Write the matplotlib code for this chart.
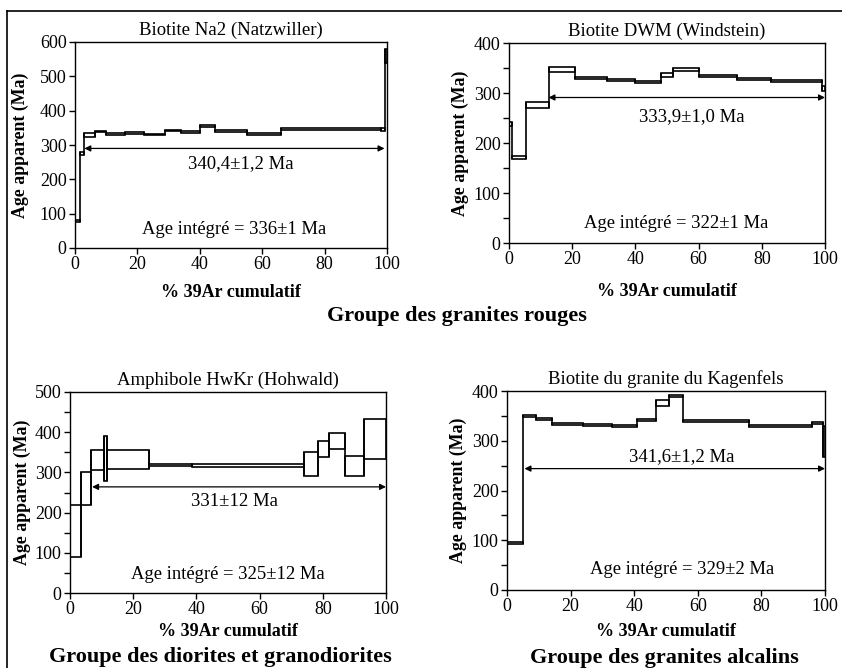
import numpy as np
import matplotlib
matplotlib.use('Agg')
import matplotlib.pyplot as plt
from matplotlib.lines import Line2D
from matplotlib.ticker import MultipleLocator

plt.rcParams['font.family'] = ['Liberation Serif', 'DejaVu Serif']

# --- data: step edges (% 39Ar cumulatif), lower / upper apparent ages (Ma) ---
titles = ['Biotite Na2 (Natzwiller)', 'Biotite DWM (Windstein)',
          'Amphibole HwKr (Hohwald)', 'Biotite du granite du Kagenfels']

edges1 = [0, 1.5, 3, 6.5, 10, 16, 22, 29, 34, 40, 45, 55, 66, 98, 99.5, 100]
lo1 = [75, 270, 322, 337, 330, 333, 328, 340, 335, 351, 338, 330, 343, 340, 540]
hi1 = [82, 280, 334, 342, 336, 338, 333, 345, 340, 357, 345, 335, 349, 350, 580]

edges2 = [0, 1, 5.5, 12.5, 21, 31, 40, 48, 52, 60, 72, 83, 99, 100]
lo2 = [235, 168, 270, 342, 328, 325, 321, 332, 345, 333, 326, 322, 305]
hi2 = [242, 175, 283, 352, 332, 329, 325, 340, 350, 337, 330, 326, 315]

edges3 = [0, 3.5, 6.8, 10.8, 11.8, 25, 38.5, 74, 78.5, 82, 87, 93, 100]
lo3 = [90, 220, 305, 278, 308, 315, 313, 290, 338, 358, 290, 333]
hi3 = [218, 300, 355, 390, 355, 322, 320, 350, 377, 398, 342, 433]

edges4 = [0, 5, 9, 14, 24, 33, 41, 47, 51, 55.5, 76, 96, 99.5, 100]
lo4 = [92, 348, 342, 332, 329, 328, 340, 370, 388, 338, 328, 334, 268]
hi4 = [96, 352, 346, 336, 333, 331, 343, 382, 392, 341, 332, 338, 330]

ymax = [600, 400, 500, 400]

# plateau: start %, end %, arrow age, label
plateau_start = [3, 12.5, 7, 5.5]
plateau_end = [99.2, 100, 100, 100]
plateau_age = [290, 291, 264, 244]
plateau_text = ['340,4±1,2 Ma', '333,9±1,0 Ma', '331±12 Ma', '341,6±1,2 Ma']
plateau_text_pos = [(53, 247), (58, 253), (52, 227), (55, 269)]

integ_text = ['Age intégré = 336±1 Ma', 'Age intégré = 322±1 Ma',
              'Age intégré = 325±12 Ma', 'Age intégré = 329±2 Ma']
integ_pos = [(51, 53), (53, 40), (50, 45), (55, 41)]

groups = ['Groupe des granites rouges', 'Groupe des diorites et granodiorites',
          'Groupe des granites alcalins']

W, H = 842, 668
fig = plt.figure(figsize=(W / 100, H / 100), dpi=100)


def px_axes(left, right, top, bottom):
    return fig.add_axes([left / W, 1 - bottom / H, (right - left) / W, (bottom - top) / H])


axes = [px_axes(75, 387, 42, 248), px_axes(509, 825, 43, 243),
        px_axes(70, 386, 392, 593), px_axes(507, 825, 391, 590)]

# label positions (axes fraction): ylabel x, xlabel y
ylabel_x = [-0.175, -0.155, -0.152, -0.152]
xlabel_y = [-0.214, -0.245, -0.194, -0.211]

steps = [(edges1, lo1, hi1), (edges2, lo2, hi2), (edges3, lo3, hi3), (edges4, lo4, hi4)]

for i, ax in enumerate(axes):
    e, lo, hi = steps[i]
    e = np.array(e)
    lo = np.array(lo)
    hi = np.array(hi)
    ax.bar(e[:-1], hi - lo, bottom=lo, width=np.diff(e), align='edge',
           fill=False, edgecolor='black', linewidth=1.2)
    # risers joining neighbouring steps
    ax.vlines(e[1:-1], np.minimum(lo[:-1], lo[1:]), np.maximum(hi[:-1], hi[1:]),
              color='black', linewidth=1.2)

    ax.set_xlim(0, 100)
    ax.set_ylim(0, ymax[i])
    ax.xaxis.set_major_locator(MultipleLocator(20))
    ax.yaxis.set_major_locator(MultipleLocator(100))
    if i > 0:
        ax.yaxis.set_minor_locator(MultipleLocator(50))
    ax.tick_params(which='both', direction='out', length=4, width=1, labelsize=13, pad=2)
    for s in ax.spines.values():
        s.set_linewidth(1.0)

    ax.set_title(titles[i], fontsize=13.5, pad=5)
    ax.set_ylabel('Age apparent (Ma)', fontsize=12.8, fontweight='bold', va='center')
    ax.yaxis.set_label_coords(ylabel_x[i], 0.5)
    ax.set_xlabel('% 39Ar cumulatif', fontsize=13, fontweight='bold', va='center')
    ax.xaxis.set_label_coords(0.5, xlabel_y[i])

    ax.annotate('', xy=(plateau_end[i], plateau_age[i]), xytext=(plateau_start[i], plateau_age[i]),
                arrowprops=dict(arrowstyle='<|-|>', color='black', lw=0.9, mutation_scale=9,
                                shrinkA=0, shrinkB=0))
    ax.text(*plateau_text_pos[i], plateau_text[i], fontsize=13.5, ha='center', va='center')
    ax.text(*integ_pos[i], integ_text[i], fontsize=13.4, ha='center', va='center')

# group labels
fig.text(457 / W, 1 - 316 / H, groups[0], fontsize=16, fontweight='bold', ha='center', va='center')
fig.text(220 / W, 1 - 657 / H, groups[1], fontsize=16, fontweight='bold', ha='center', va='center')
fig.text(664 / W, 1 - 658 / H, groups[2], fontsize=16, fontweight='bold', ha='center', va='center')

# outer frame (top and left only, as scanned)
fig.add_artist(Line2D([7 / W, 1], [1 - 11 / H, 1 - 11 / H], color='black', lw=1.2))
fig.add_artist(Line2D([7 / W, 7 / W], [0, 1 - 11 / H], color='black', lw=1.2))

fig.savefig('out.png', dpi=100)
